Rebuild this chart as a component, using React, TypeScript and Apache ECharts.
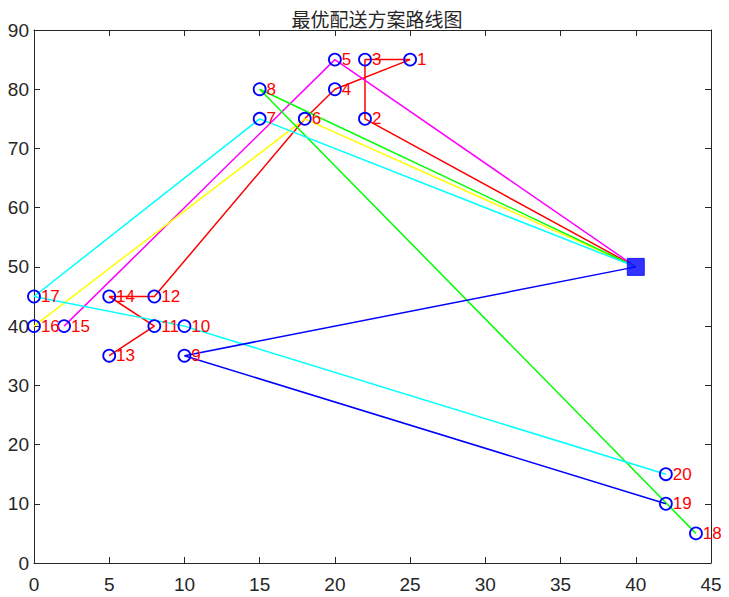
import React, { useEffect, useRef } from "react";
import * as echarts from "echarts";

const customerIds = [1, 2, 3, 4, 5, 6, 7, 8, 9, 10, 11, 12, 13, 14, 15, 16, 17, 18, 19, 20];
const customerX = [25, 22, 22, 20, 20, 18, 15, 15, 10, 10, 8, 8, 5, 5, 2, 0, 0, 44, 42, 42];
const customerY = [85, 75, 85, 80, 85, 75, 75, 80, 35, 40, 40, 45, 35, 45, 40, 40, 45, 5, 10, 15];
const depot = [40, 50];

const routeRed = [2, 3, 1, 4, 6, 12, 14, 11, 13];
const routeMagenta = [5, 15];
const routeYellow = [6, 16];
const routeGreen = [8, 18];
const routeCyan = [7, 17, 10, 20];
const routeBlue = [9, 19];

const routes = [
  { ids: routeRed, color: "#ff0000" },
  { ids: routeMagenta, color: "#ff00ff" },
  { ids: routeYellow, color: "#ffff00" },
  { ids: routeGreen, color: "#00ff00" },
  { ids: routeCyan, color: "#00ffff" },
  { ids: routeBlue, color: "#0000ff" },
];

const xTicks = { min: 0, max: 45, interval: 5 };
const yTicks = { min: 0, max: 90, interval: 10 };
const titleText = "最优配送方案路线图";

export default function App() {
  const ref = useRef<HTMLDivElement>(null);
  useEffect(() => {
    if (!ref.current) return;
    const chart = echarts.init(ref.current, null, { renderer: "svg" });
    const pt = (id: number) => [customerX[id - 1], customerY[id - 1]];
    const lineSeries = routes.map((r) => ({
      type: "line",
      data: [depot, ...r.ids.map(pt)],
      symbol: "none",
      lineStyle: { color: r.color, width: 1.5 },
      z: 2,
      silent: true,
    }));
    const axisCommon = {
      axisLine: { show: true, onZero: false, lineStyle: { color: "#262626", width: 1 } },
      axisTick: { show: true, inside: true, length: 6, lineStyle: { color: "#262626" } },
      splitLine: { show: false },
    };
    const labelFont = {
      fontFamily: "Liberation Sans, Arial, sans-serif",
      fontSize: 19,
      color: "#262626",
    };
    chart.setOption({
      animation: false,
      backgroundColor: "#ffffff",
      graphic: [
        {
          type: "text",
          x: 369,
          y: 1,
          style: {
            text: titleText,
            fill: "#262626",
            font: "normal 19px 'Noto Sans CJK SC'",
            textAlign: "center",
            textVerticalAlign: "top",
          },
        },
      ],
      grid: { left: 26, right: 10, top: 22, bottom: 34, outerBoundsMode: "none", containLabel: false },
      xAxis: [
        {
          type: "value",
          position: "bottom",
          ...xTicks,
          ...axisCommon,
          axisLabel: { ...labelFont, margin: 12 },
        },
        {
          type: "value",
          position: "top",
          ...xTicks,
          ...axisCommon,
          axisLabel: { show: false },
        },
      ],
      yAxis: [
        {
          type: "value",
          position: "left",
          ...yTicks,
          ...axisCommon,
          axisLabel: { ...labelFont, margin: 5 },
        },
        {
          type: "value",
          position: "right",
          ...yTicks,
          ...axisCommon,
          axisLabel: { show: false },
        },
      ],
      series: [
        ...lineSeries,
        {
          type: "scatter",
          data: customerIds.map((id) => ({ value: pt(id), name: String(id) })),
          symbol: "circle",
          symbolSize: 12,
          itemStyle: { color: "rgba(0,0,0,0)", opacity: 1, borderColor: "#0000ff", borderWidth: 1.8 },
          label: {
            show: true,
            position: "right",
            distance: 0,
            formatter: (p: any) => p.name,
            color: "#ff0000",
            fontSize: 17,
            fontFamily: "Liberation Sans, Arial, sans-serif",
          },
          z: 3,
        },
        {
          type: "scatter",
          data: [depot],
          symbol: "rect",
          symbolSize: 17,
          itemStyle: { color: "#0000ff", borderColor: "#0000ff", borderWidth: 1 },
          z: 4,
        },
      ],
    });
    return () => chart.dispose();
  }, []);
  return <div ref={ref} style={{ width: 713, height: 589 }} />;
}
